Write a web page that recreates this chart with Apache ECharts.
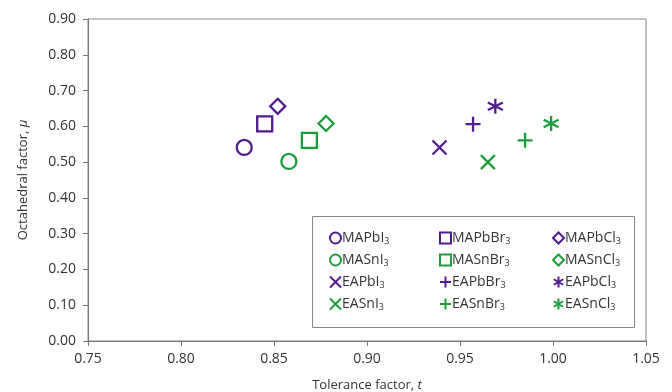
<!DOCTYPE html>
<html><head><meta charset="utf-8">
<script src="https://cdn.jsdelivr.net/npm/echarts@6/dist/echarts.min.js"></script>
<style>html,body{margin:0;padding:0;background:#fff}#c{width:672px;height:392px}</style>
</head><body><div id="c"></div>
<script>
// Data
const names = ['MAPbI3','MASnI3','EAPbI3','EASnI3','MAPbBr3','MASnBr3','EAPbBr3','EASnBr3','MAPbCl3','MASnCl3','EAPbCl3','EASnCl3'];
const toleranceT = [0.834,0.858,0.939,0.965,0.845,0.869,0.957,0.985,0.852,0.878,0.969,0.999];
const octahedralMu = [0.541,0.502,0.541,0.500,0.607,0.561,0.606,0.561,0.656,0.608,0.656,0.608];
const xTicks = [0.75,0.80,0.85,0.90,0.95,1.00,1.05];
const yTicks = [0.00,0.10,0.20,0.30,0.40,0.50,0.60,0.70,0.80,0.90];

const PURPLE = '#531c8e', GREEN = '#1c9e3a';
const colorOf = n => n.indexOf('Pb') >= 0 ? PURPLE : GREEN;
const SYM = {
  circle: 'circle',
  square: 'rect',
  diamond: 'path://M5,0L10,5L5,10L0,5Z',
  cross: 'path://M0,0L10,10M10,0L0,10',
  plus: 'path://M5,0L5,10M0,5L10,5',
  star: 'path://M5,0L5,10M0.7,2.5L9.3,7.5M9.3,2.5L0.7,7.5'
};
function symbolOf(n){
  const ma = n.startsWith('MA');
  if (n.endsWith('I3')) return ma ? ['circle',15] : ['cross',14];
  if (n.endsWith('Br3')) return ma ? ['square',15] : ['plus',15];
  return ma ? ['diamond',15] : ['star',15];
}

const series = names.map((n,i) => {
  const s = symbolOf(n);
  return {
    name: n, type: 'scatter',
    symbol: SYM[s[0]], symbolSize: s[1],
    itemStyle: { color: 'transparent', borderColor: colorOf(n), borderWidth: 2.3, opacity: 1 },
    emphasis: { disabled: true },
    data: [[toleranceT[i], octahedralMu[i]]]
  };
});

const richLeg = {
  n: { fontFamily: 'Open Sans', fontSize: 14, color: '#333' },
  s: { fontFamily: 'Open Sans', fontSize: 9, color: '#333', verticalAlign: 'bottom', padding: [7,0,0,0] }
};
const legFmt = n => '{n|' + n.slice(0, -1) + '}{s|3}';
function legend(left, data){
  return {
    orient: 'vertical', left: left, top: 226, itemGap: 7,
    itemWidth: 11, itemHeight: 11, data: data,
    formatter: legFmt, textStyle: { rich: richLeg, padding: [0,0,0,-4] },
    selectedMode: false, itemStyle: { borderWidth: 2 }
  };
}

const axisCommon = {
  axisLine: { show: true, lineStyle: { color: '#777', width: 1 } },
  axisTick: { show: true, length: 5, lineStyle: { color: '#777' } },
  splitLine: { show: false },
  axisLabel: { fontFamily: 'Open Sans', fontSize: 14, color: '#333', formatter: v => v.toFixed(2) }
};

const chart = echarts.init(document.getElementById('c'), null, { renderer: 'canvas' });
chart.setOption({
  animation: false,
  grid: { left: 88, right: 26, top: 19, bottom: 51, show: true, borderColor: '#888', borderWidth: 1,
          containLabel: false, outerBoundsMode: 'none' },
  xAxis: Object.assign({}, axisCommon, {
    type: 'value', min: xTicks[0], max: xTicks[xTicks.length-1], interval: 0.05,
    name: 'Tolerance factor, {i|t}', nameLocation: 'middle', nameGap: 38,
    nameTextStyle: { fontFamily: 'Open Sans', fontSize: 13, color: '#333',
      rich: { i: { fontFamily: 'Open Sans', fontSize: 13, fontStyle: 'italic', color: '#333' } } },
    axisLabel: Object.assign({}, axisCommon.axisLabel, { margin: 11 })
  }),
  yAxis: Object.assign({}, axisCommon, {
    type: 'value', min: yTicks[0], max: yTicks[yTicks.length-1], interval: 0.1,
    name: 'Octahedral factor, {i|μ}', nameLocation: 'middle', nameGap: 58,
    nameTextStyle: { fontFamily: 'Open Sans', fontSize: 13, color: '#333',
      rich: { i: { fontFamily: 'Open Sans', fontSize: 13, fontStyle: 'italic', color: '#333' } } },
    axisLabel: Object.assign({}, axisCommon.axisLabel, { margin: 12 })
  }),
  legend: [
    legend(324, names.slice(0,4)),
    legend(434, names.slice(4,8)),
    legend(547, names.slice(8,12))
  ],
  graphic: [{
    type: 'rect', left: 312, top: 216, z: 0,
    shape: { width: 322, height: 111 },
    style: { fill: '#fff', stroke: '#888', lineWidth: 1 }
  }],
  series: series
});
</script></body></html>
